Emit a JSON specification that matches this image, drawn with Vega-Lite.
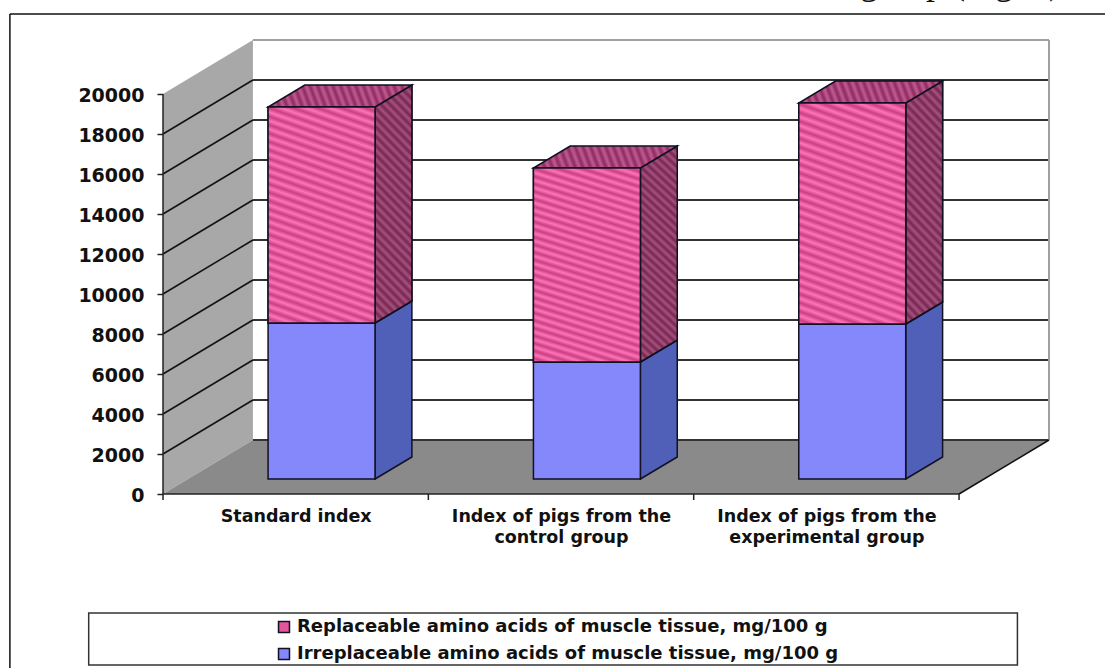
{
"$schema":"https://vega.github.io/schema/vega-lite/v6.json",
"width":886,"height":454,
"autosize":"none",
"padding":{"left":163,"top":40,"right":56,"bottom":174},
"background":"white",
"view":{"stroke":null},
"datasets":{
 "bars":[
  {"category":"Standard index","series":"Irreplaceable amino acids of muscle tissue, mg/100 g","value":7800},
  {"category":"Standard index","series":"Replaceable amino acids of muscle tissue, mg/100 g","value":10800},
  {"category":"Index of pigs from the control group","series":"Irreplaceable amino acids of muscle tissue, mg/100 g","value":5850},
  {"category":"Index of pigs from the control group","series":"Replaceable amino acids of muscle tissue, mg/100 g","value":9700},
  {"category":"Index of pigs from the experimental group","series":"Irreplaceable amino acids of muscle tissue, mg/100 g","value":7750},
  {"category":"Index of pigs from the experimental group","series":"Replaceable amino acids of muscle tissue, mg/100 g","value":11050}
 ],
 "ticks":[{"tick":0},{"tick":2000},{"tick":4000},{"tick":6000},{"tick":8000},{"tick":10000},{"tick":12000},{"tick":14000},{"tick":16000},{"tick":18000},{"tick":20000}],
 "cats":[{"cat":0},{"cat":1},{"cat":2},{"cat":3}],
 "depth":[{"depth":0},{"depth":1}]
},
"resolve":{"scale":{"color":"independent"}},
"layer":[
 {"data":{"name":"depth"},"transform":[{"calculate":"datum.depth*0.339","as":"px"},{"calculate":"datum.depth*2700","as":"lo"},{"calculate":"20000+datum.depth*2700","as":"hi"}],
  "mark":{"type":"area","fill":"#a8a8a8","stroke":null,"clip":false},
  "encoding":{"x":{"field":"px","type":"quantitative","scale":{"domain":[0,3.339],"nice":false,"zero":false},
     "axis":{"values":[0.5,1.5,2.5],"labelExpr":"datum.value==0.5?'Standard index':datum.value==1.5?['Index of pigs from the','control group']:['Index of pigs from the','experimental group']","ticks":false,"domain":false,"grid":false,"title":null,"labelFont":"DejaVu Sans","labelFontWeight":"bold","labelFontSize":17.5,"labelColor":"#111","labelAngle":0,"labelPadding":13,"labelLimit":0,"labelLineHeight":21,"labelOverlap":false,"labelBaseline":"top"}},
   "y":{"field":"lo","type":"quantitative","scale":{"domain":[0,22700],"nice":false},
     "axis":{"values":[0,2000,4000,6000,8000,10000,12000,14000,16000,18000,20000],"format":"d","domain":false,"grid":false,"title":null,"tickColor":"#222","tickSize":6,"tickWidth":1.5,"labelFont":"DejaVu Sans","labelFontWeight":"bold","labelFontSize":19,"labelColor":"#111","labelPadding":13,"labelOffset":1}},
   "y2":{"field":"hi"}}},
 {"data":{"name":"depth"},"transform":[{"calculate":"datum.depth*0.339","as":"px"},{"calculate":"3+datum.depth*0.339","as":"pe"},{"calculate":"datum.depth*2700","as":"py"}],
  "mark":{"type":"area","orient":"horizontal","fill":"#8a8a8a","stroke":null,"clip":false},
  "encoding":{"y":{"field":"py","type":"quantitative"},"x":{"field":"px","type":"quantitative"},"x2":{"field":"pe"}}},
 {"data":{"name":"ticks"},"transform":[{"calculate":"datum.tick+2700","as":"yb"},{"calculate":"0.339","as":"xa"},{"calculate":"3.339","as":"xb"}],
  "mark":{"type":"rule","strokeWidth":2,"clip":false},
  "encoding":{"x":{"field":"xa","type":"quantitative"},"x2":{"field":"xb"},"y":{"field":"yb","type":"quantitative"},
    "color":{"condition":{"test":"datum.tick==20000","value":"#a0a0a0"},"value":"#333333"}}},
 {"data":{"name":"ticks"},"transform":[{"filter":"datum.tick>0 && datum.tick<20000"},{"calculate":"[0,1]","as":"d"},{"flatten":["d"]},{"calculate":"datum.d*0.339","as":"px"},{"calculate":"datum.tick+datum.d*2700","as":"py"}],
  "mark":{"type":"line","stroke":"#111111","strokeWidth":1.5,"clip":false},
  "encoding":{"x":{"field":"px","type":"quantitative"},"y":{"field":"py","type":"quantitative"},"detail":{"field":"tick"}}},
 {"data":{"values":[{"edge":"back wall"}]},"transform":[{"calculate":"3.339","as":"xe"},{"calculate":"2700","as":"y0"},{"calculate":"22700","as":"y1"}],
  "mark":{"type":"rule","stroke":"#a0a0a0","strokeWidth":2,"clip":false},
  "encoding":{"x":{"field":"xe","type":"quantitative"},"y":{"field":"y0","type":"quantitative"},"y2":{"field":"y1"}}},
 {"data":{"values":[{"edge":"axis"}]},"transform":[{"calculate":"0","as":"xe"},{"calculate":"0","as":"y0"},{"calculate":"20000","as":"y1"}],
  "mark":{"type":"rule","stroke":"#222222","strokeWidth":1.5,"clip":false},
  "encoding":{"x":{"field":"xe","type":"quantitative"},"y":{"field":"y0","type":"quantitative"},"y2":{"field":"y1"}}},
 {"data":{"name":"depth"},"transform":[{"calculate":"3+datum.depth*0.339","as":"px"},{"calculate":"datum.depth*2700","as":"py"}],
  "mark":{"type":"line","stroke":"#111111","strokeWidth":1.5,"clip":false},
  "encoding":{"x":{"field":"px","type":"quantitative"},"y":{"field":"py","type":"quantitative"}}},
 {"data":{"values":[{"edge":"floor front"}]},"transform":[{"calculate":"0","as":"xa"},{"calculate":"3","as":"xb"},{"calculate":"0","as":"y0"}],
  "mark":{"type":"rule","stroke":"#222222","strokeWidth":1.5,"clip":false},
  "encoding":{"x":{"field":"xa","type":"quantitative"},"x2":{"field":"xb"},"y":{"field":"y0","type":"quantitative"}}},
 {"data":{"name":"cats"},"transform":[{"calculate":"0","as":"y0"},{"calculate":"-300","as":"y1"}],
  "mark":{"type":"rule","stroke":"#222222","strokeWidth":1.5,"clip":false},
  "encoding":{"x":{"field":"cat","type":"quantitative"},"y":{"field":"y0","type":"quantitative"},"y2":{"field":"y1"}}},
 {"data":{"name":"bars"},"transform":[
   {"calculate":"indexof(['Standard index','Index of pigs from the control group','Index of pigs from the experimental group'],datum.category)","as":"i"},
   {"calculate":"indexof(datum.series,'Irreplaceable')==0?0:1","as":"ord"},
   {"stack":"value","groupby":["category"],"sort":[{"field":"ord","order":"ascending"}],"as":["s0","s1"]},
   {"calculate":"[0,1]","as":"d"},{"flatten":["d"]},
   {"calculate":"datum.i+0.799+datum.d*0.139","as":"px"},
   {"calculate":"datum.s0+750+datum.d*1100","as":"lo"},
   {"calculate":"datum.s1+750+datum.d*1100","as":"hi"}],
  "mark":{"type":"area","stroke":"#111122","strokeWidth":1.5,"clip":false},
  "encoding":{"x":{"field":"px","type":"quantitative"},"y":{"field":"lo","type":"quantitative"},"y2":{"field":"hi"},"detail":{"field":"category"},
   "color":{"field":"series","type":"nominal","legend":null,"scale":{"domain":["Replaceable amino acids of muscle tissue, mg/100 g","Irreplaceable amino acids of muscle tissue, mg/100 g"],"range":["#8f3d68","#5060b8"]}}}},
 {"data":{"name":"bars"},"transform":[
   {"calculate":"indexof(['Standard index','Index of pigs from the control group','Index of pigs from the experimental group'],datum.category)","as":"i"},
   {"calculate":"indexof(datum.series,'Irreplaceable')==0?0:1","as":"ord"},
   {"stack":"value","groupby":["category"],"sort":[{"field":"ord","order":"ascending"}],"as":["s0","s1"]},
   {"filter":"datum.ord==1"},
   {"calculate":"[0,1]","as":"d"},{"flatten":["d"]},
   {"calculate":"datum.i+0.799+datum.d*0.139","as":"px"},
   {"calculate":"datum.s0+750+datum.d*1100","as":"lo"},
   {"calculate":"datum.s1+750+datum.d*1100","as":"hi"}],
  "mark":{"type":"area","stroke":"#111122","strokeWidth":1.5,"clip":false,
   "fill":{"gradient":"linear","x1":1,"y1":0,"x2":0.82,"y2":1.14,"stops":[
{"offset":0,"color":"#a85080"},{"offset":0.0167,"color":"#74284f"},{"offset":0.0333,"color":"#a85080"},{"offset":0.05,"color":"#74284f"},{"offset":0.0667,"color":"#a85080"},{"offset":0.0833,"color":"#74284f"},{"offset":0.1,"color":"#a85080"},{"offset":0.1167,"color":"#74284f"},{"offset":0.1333,"color":"#a85080"},{"offset":0.15,"color":"#74284f"},{"offset":0.1667,"color":"#a85080"},{"offset":0.1833,"color":"#74284f"},{"offset":0.2,"color":"#a85080"},{"offset":0.2167,"color":"#74284f"},{"offset":0.2333,"color":"#a85080"},{"offset":0.25,"color":"#74284f"},{"offset":0.2667,"color":"#a85080"},{"offset":0.2833,"color":"#74284f"},{"offset":0.3,"color":"#a85080"},{"offset":0.3167,"color":"#74284f"},{"offset":0.3333,"color":"#a85080"},{"offset":0.35,"color":"#74284f"},{"offset":0.3667,"color":"#a85080"},{"offset":0.3833,"color":"#74284f"},{"offset":0.4,"color":"#a85080"},{"offset":0.4167,"color":"#74284f"},{"offset":0.4333,"color":"#a85080"},{"offset":0.45,"color":"#74284f"},{"offset":0.4667,"color":"#a85080"},{"offset":0.4833,"color":"#74284f"},{"offset":0.5,"color":"#a85080"},{"offset":0.5167,"color":"#74284f"},{"offset":0.5333,"color":"#a85080"},{"offset":0.55,"color":"#74284f"},{"offset":0.5667,"color":"#a85080"},{"offset":0.5833,"color":"#74284f"},{"offset":0.6,"color":"#a85080"},{"offset":0.6167,"color":"#74284f"},{"offset":0.6333,"color":"#a85080"},{"offset":0.65,"color":"#74284f"},{"offset":0.6667,"color":"#a85080"},{"offset":0.6833,"color":"#74284f"},{"offset":0.7,"color":"#a85080"},{"offset":0.7167,"color":"#74284f"},{"offset":0.7333,"color":"#a85080"},{"offset":0.75,"color":"#74284f"},{"offset":0.7667,"color":"#a85080"},{"offset":0.7833,"color":"#74284f"},{"offset":0.8,"color":"#a85080"},{"offset":0.8167,"color":"#74284f"},{"offset":0.8333,"color":"#a85080"},{"offset":0.85,"color":"#74284f"},{"offset":0.8667,"color":"#a85080"},{"offset":0.8833,"color":"#74284f"},{"offset":0.9,"color":"#a85080"},{"offset":0.9167,"color":"#74284f"},{"offset":0.9333,"color":"#a85080"},{"offset":0.95,"color":"#74284f"},{"offset":0.9667,"color":"#a85080"},{"offset":0.9833,"color":"#74284f"},{"offset":1,"color":"#a85080"}]}},
  "encoding":{"x":{"field":"px","type":"quantitative"},"y":{"field":"lo","type":"quantitative"},"y2":{"field":"hi"},"detail":{"field":"category"}}},
 {"data":{"name":"bars"},"transform":[
   {"filter":"indexof(datum.series,'Replaceable')==0"},
   {"calculate":"indexof(['Standard index','Index of pigs from the control group','Index of pigs from the experimental group'],datum.category)","as":"i"},
   {"calculate":"datum.i==0?7800:datum.i==1?5850:7750","as":"base"},
   {"calculate":"[0,1]","as":"d"},{"flatten":["d"]},
   {"calculate":"datum.i+0.396+datum.d*0.139","as":"xa"},
   {"calculate":"datum.i+0.799+datum.d*0.139","as":"xb"},
   {"calculate":"datum.base+datum.value+750+datum.d*1100","as":"py"}],
  "mark":{"type":"area","orient":"horizontal","stroke":"#111122","strokeWidth":1.5,"clip":false,
   "fill":{"gradient":"linear","x1":0,"y1":1,"x2":1.06,"y2":0.94,"stops":[
{"offset":0,"color":"#c25a92"},{"offset":0.025,"color":"#8c2c60"},{"offset":0.05,"color":"#c25a92"},{"offset":0.075,"color":"#8c2c60"},{"offset":0.1,"color":"#c25a92"},{"offset":0.125,"color":"#8c2c60"},{"offset":0.15,"color":"#c25a92"},{"offset":0.175,"color":"#8c2c60"},{"offset":0.2,"color":"#c25a92"},{"offset":0.225,"color":"#8c2c60"},{"offset":0.25,"color":"#c25a92"},{"offset":0.275,"color":"#8c2c60"},{"offset":0.3,"color":"#c25a92"},{"offset":0.325,"color":"#8c2c60"},{"offset":0.35,"color":"#c25a92"},{"offset":0.375,"color":"#8c2c60"},{"offset":0.4,"color":"#c25a92"},{"offset":0.425,"color":"#8c2c60"},{"offset":0.45,"color":"#c25a92"},{"offset":0.475,"color":"#8c2c60"},{"offset":0.5,"color":"#c25a92"},{"offset":0.525,"color":"#8c2c60"},{"offset":0.55,"color":"#c25a92"},{"offset":0.575,"color":"#8c2c60"},{"offset":0.6,"color":"#c25a92"},{"offset":0.625,"color":"#8c2c60"},{"offset":0.65,"color":"#c25a92"},{"offset":0.675,"color":"#8c2c60"},{"offset":0.7,"color":"#c25a92"},{"offset":0.725,"color":"#8c2c60"},{"offset":0.75,"color":"#c25a92"},{"offset":0.775,"color":"#8c2c60"},{"offset":0.8,"color":"#c25a92"},{"offset":0.825,"color":"#8c2c60"},{"offset":0.85,"color":"#c25a92"},{"offset":0.875,"color":"#8c2c60"},{"offset":0.9,"color":"#c25a92"},{"offset":0.925,"color":"#8c2c60"},{"offset":0.95,"color":"#c25a92"},{"offset":0.975,"color":"#8c2c60"},{"offset":1,"color":"#c25a92"}]}},
  "encoding":{"y":{"field":"py","type":"quantitative"},"x":{"field":"xa","type":"quantitative"},"x2":{"field":"xb"},"detail":{"field":"category"}}},
 {"data":{"values":[{"box":"legend"}]},"transform":[{"calculate":"-0.28","as":"xa"},{"calculate":"3.22","as":"xb"},{"calculate":"-5950","as":"ya"},{"calculate":"-8550","as":"yb"}],
  "mark":{"type":"rect","fill":"white","stroke":"#333333","strokeWidth":1.5,"clip":false},
  "encoding":{"x":{"field":"xa","type":"quantitative"},"x2":{"field":"xb"},"y":{"field":"ya","type":"quantitative"},"y2":{"field":"yb"}}},
 {"data":{"values":[{"box":"frame"}]},"transform":[{"calculate":"-0.577","as":"xa"},{"calculate":"24000","as":"ya"},{"calculate":"-9000","as":"yb"}],
  "mark":{"type":"rule","stroke":"#111111","strokeWidth":1.5,"clip":false},
  "encoding":{"x":{"field":"xa","type":"quantitative"},"y":{"field":"ya","type":"quantitative"},"y2":{"field":"yb"}}},
 {"data":{"values":[{"box":"frame"}]},"transform":[{"calculate":"-0.577","as":"xa"},{"calculate":"3.55","as":"xb"},{"calculate":"24000","as":"ya"}],
  "mark":{"type":"rule","stroke":"#111111","strokeWidth":1.5,"clip":false},
  "encoding":{"x":{"field":"xa","type":"quantitative"},"x2":{"field":"xb"},"y":{"field":"ya","type":"quantitative"}}},
 {"data":{"values":[{"caption":"group (Fig. 1)"}]},"transform":[{"calculate":"2.627","as":"xa"},{"calculate":"25000","as":"ya"}],
  "mark":{"type":"text","font":"Liberation Serif","fontSize":36,"align":"left","baseline":"alphabetic","color":"#111","clip":false},
  "encoding":{"x":{"field":"xa","type":"quantitative"},"y":{"field":"ya","type":"quantitative"},"text":{"field":"caption"}}},
 {"data":{"name":"bars"},"transform":[
   {"calculate":"indexof(['Standard index','Index of pigs from the control group','Index of pigs from the experimental group'],datum.category)","as":"i"},
   {"calculate":"indexof(datum.series,'Irreplaceable')==0?0:1","as":"ord"},
   {"stack":"value","groupby":["category"],"sort":[{"field":"ord","order":"ascending"}],"as":["s0","s1"]},
   {"calculate":"datum.i+0.396","as":"xa"},{"calculate":"datum.i+0.799","as":"xb"},
   {"calculate":"datum.s0+750","as":"lo"},{"calculate":"datum.s1+750","as":"hi"}],
  "mark":{"type":"rect","stroke":"#111122","strokeWidth":1.5,"clip":false},
  "encoding":{"x":{"field":"xa","type":"quantitative"},"x2":{"field":"xb"},"y":{"field":"lo","type":"quantitative"},"y2":{"field":"hi"},
   "color":{"field":"series","type":"nominal","scale":{"domain":["Replaceable amino acids of muscle tissue, mg/100 g","Irreplaceable amino acids of muscle tissue, mg/100 g"],"range":["#e4559b","#8488fb"]},
    "legend":{"title":null,"orient":"none","legendX":112,"legendY":578,"symbolType":"square","symbolSize":120,"symbolStrokeColor":"#111122","symbolStrokeWidth":1.5,"labelFont":"DejaVu Sans","labelFontWeight":"bold","labelFontSize":18,"labelColor":"#111","labelLimit":0,"labelOffset":4,"rowPadding":9,"symbolOpacity":1}}}},
 {"data":{"name":"bars"},"transform":[
   {"calculate":"indexof(['Standard index','Index of pigs from the control group','Index of pigs from the experimental group'],datum.category)","as":"i"},
   {"calculate":"indexof(datum.series,'Irreplaceable')==0?0:1","as":"ord"},
   {"stack":"value","groupby":["category"],"sort":[{"field":"ord","order":"ascending"}],"as":["s0","s1"]},
   {"filter":"datum.ord==1"},
   {"calculate":"datum.i+0.396","as":"xa"},{"calculate":"datum.i+0.799","as":"xb"},
   {"calculate":"datum.s0+750","as":"lo"},{"calculate":"datum.s1+750","as":"hi"}],
  "mark":{"type":"rect","stroke":"#111122","strokeWidth":1.5,"clip":false,
   "fill":{"gradient":"linear","x1":1,"y1":0,"x2":0.803,"y2":1.139,"stops":[
{"offset":0,"color":"#ff74b8"},{"offset":0.0167,"color":"#c93f82"},{"offset":0.0333,"color":"#ff74b8"},{"offset":0.05,"color":"#c93f82"},{"offset":0.0667,"color":"#ff74b8"},{"offset":0.0833,"color":"#c93f82"},{"offset":0.1,"color":"#ff74b8"},{"offset":0.1167,"color":"#c93f82"},{"offset":0.1333,"color":"#ff74b8"},{"offset":0.15,"color":"#c93f82"},{"offset":0.1667,"color":"#ff74b8"},{"offset":0.1833,"color":"#c93f82"},{"offset":0.2,"color":"#ff74b8"},{"offset":0.2167,"color":"#c93f82"},{"offset":0.2333,"color":"#ff74b8"},{"offset":0.25,"color":"#c93f82"},{"offset":0.2667,"color":"#ff74b8"},{"offset":0.2833,"color":"#c93f82"},{"offset":0.3,"color":"#ff74b8"},{"offset":0.3167,"color":"#c93f82"},{"offset":0.3333,"color":"#ff74b8"},{"offset":0.35,"color":"#c93f82"},{"offset":0.3667,"color":"#ff74b8"},{"offset":0.3833,"color":"#c93f82"},{"offset":0.4,"color":"#ff74b8"},{"offset":0.4167,"color":"#c93f82"},{"offset":0.4333,"color":"#ff74b8"},{"offset":0.45,"color":"#c93f82"},{"offset":0.4667,"color":"#ff74b8"},{"offset":0.4833,"color":"#c93f82"},{"offset":0.5,"color":"#ff74b8"},{"offset":0.5167,"color":"#c93f82"},{"offset":0.5333,"color":"#ff74b8"},{"offset":0.55,"color":"#c93f82"},{"offset":0.5667,"color":"#ff74b8"},{"offset":0.5833,"color":"#c93f82"},{"offset":0.6,"color":"#ff74b8"},{"offset":0.6167,"color":"#c93f82"},{"offset":0.6333,"color":"#ff74b8"},{"offset":0.65,"color":"#c93f82"},{"offset":0.6667,"color":"#ff74b8"},{"offset":0.6833,"color":"#c93f82"},{"offset":0.7,"color":"#ff74b8"},{"offset":0.7167,"color":"#c93f82"},{"offset":0.7333,"color":"#ff74b8"},{"offset":0.75,"color":"#c93f82"},{"offset":0.7667,"color":"#ff74b8"},{"offset":0.7833,"color":"#c93f82"},{"offset":0.8,"color":"#ff74b8"},{"offset":0.8167,"color":"#c93f82"},{"offset":0.8333,"color":"#ff74b8"},{"offset":0.85,"color":"#c93f82"},{"offset":0.8667,"color":"#ff74b8"},{"offset":0.8833,"color":"#c93f82"},{"offset":0.9,"color":"#ff74b8"},{"offset":0.9167,"color":"#c93f82"},{"offset":0.9333,"color":"#ff74b8"},{"offset":0.95,"color":"#c93f82"},{"offset":0.9667,"color":"#ff74b8"},{"offset":0.9833,"color":"#c93f82"},{"offset":1,"color":"#ff74b8"}]}},
  "encoding":{"x":{"field":"xa","type":"quantitative"},"x2":{"field":"xb"},"y":{"field":"lo","type":"quantitative"},"y2":{"field":"hi"}}}
]
}
